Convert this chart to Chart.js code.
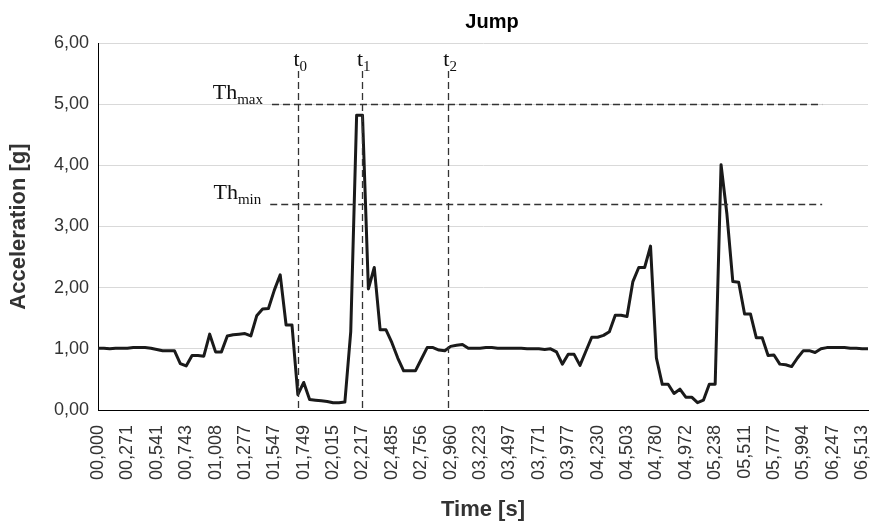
<!DOCTYPE html>
<html>
<head>
<meta charset="utf-8">
<script src="https://cdn.jsdelivr.net/npm/chart.js@4.4.1/dist/chart.umd.min.js"></script>
<style>
  html, body { margin: 0; padding: 0; background: #fff; }
  #wrap { width: 871px; height: 525px; }
</style>
</head>
<body>
<div id="wrap"><canvas id="jumpChart" width="871" height="525"></canvas></div>
<script>
// tick labels shown on the time axis (one every 5 samples)
const tickLabels = [
    '00,000', '00,271', '00,541', '00,743', '01,008', '01,277', '01,547', '01,749', '02,015',
    '02,217', '02,485', '02,756', '02,960', '03,223', '03,497', '03,771', '03,977', '04,230',
    '04,503', '04,780', '04,972', '05,238', '05,511', '05,777', '05,994', '06,247', '06,513'
];

// acceleration samples [g]
const acceleration = [
    1.01, 1.01, 1.00, 1.01, 1.01, 1.01, 1.02, 1.02, 1.02, 1.01,
    0.99, 0.97, 0.97, 0.97, 0.76, 0.72, 0.89, 0.89, 0.88, 1.24,
    0.95, 0.95, 1.21, 1.23, 1.24, 1.25, 1.21, 1.54, 1.65, 1.66,
    1.96, 2.21, 1.39, 1.39, 0.25, 0.45, 0.17, 0.16, 0.15, 0.14,
    0.12, 0.12, 0.13, 1.28, 4.82, 4.82, 1.98, 2.33, 1.31, 1.31,
    1.10, 0.85, 0.64, 0.64, 0.64, 0.83, 1.02, 1.02, 0.98, 0.97,
    1.04, 1.06, 1.07, 1.01, 1.01, 1.01, 1.02, 1.02, 1.01, 1.01,
    1.01, 1.01, 1.01, 1.00, 1.00, 1.00, 0.99, 1.00, 0.95, 0.75,
    0.91, 0.91, 0.73, 0.96, 1.19, 1.19, 1.22, 1.28, 1.55, 1.55,
    1.53, 2.10, 2.33, 2.33, 2.68, 0.85, 0.42, 0.42, 0.27, 0.34,
    0.21, 0.21, 0.12, 0.16, 0.42, 0.42, 4.01, 3.20, 2.10, 2.09,
    1.57, 1.57, 1.18, 1.18, 0.89, 0.90, 0.75, 0.74, 0.71, 0.85,
    0.97, 0.97, 0.94, 1.00, 1.02, 1.02, 1.02, 1.02, 1.01, 1.01,
    1.00, 1.00
];

// event markers t0..t2 (sample position) and thresholds Th_max / Th_min [g]
const markerPos = [34.1, 44.9, 59.6];
const markerSub = ['0', '1', '2'];
const thresholdValues = [5.00, 3.36];
const thresholdSub = ['max', 'min'];
const thresholdFrom = [29.6, 29.3];
const thresholdTo = 123.2;

const sansFont = '"Liberation Sans", Arial, sans-serif';
const serifFont = '"Liberation Serif", "Times New Roman", serif';

function drawSubscripted(ctx, main, sub, x, baseline, alignRight) {
    ctx.font = '22px ' + serifFont;
    const wMain = ctx.measureText(main).width;
    ctx.font = '15px ' + serifFont;
    const wSub = ctx.measureText(sub).width;
    const left = alignRight ? x - wMain - wSub : x;
    ctx.textAlign = 'left';
    ctx.textBaseline = 'alphabetic';
    ctx.font = '22px ' + serifFont;
    ctx.fillText(main, left, baseline);
    ctx.font = '15px ' + serifFont;
    ctx.fillText(sub, left + wMain, baseline + 5);
}

const jumpMarks = {
    id: 'jumpMarks',
    afterDatasetsDraw(chart) {
        const { ctx, chartArea, scales: { x, y } } = chart;
        ctx.save();
        ctx.strokeStyle = '#333';
        ctx.lineWidth = 1.3;
        ctx.setLineDash([7, 4]);

        // vertical event lines
        markerPos.forEach(pos => {
            const px = Math.round(x.getPixelForValue(pos)) + 0.5;
            ctx.beginPath();
            ctx.moveTo(px, 71);
            ctx.lineTo(px, chartArea.bottom);
            ctx.stroke();
        });

        // horizontal threshold lines
        thresholdValues.forEach((v, i) => {
            const py = Math.round(y.getPixelForValue(v)) + 0.5;
            ctx.beginPath();
            ctx.moveTo(x.getPixelForValue(thresholdFrom[i]), py);
            ctx.lineTo(x.getPixelForValue(thresholdTo), py);
            ctx.stroke();
        });
        ctx.setLineDash([]);

        ctx.fillStyle = '#111';
        markerPos.forEach((pos, i) => {
            const px = x.getPixelForValue(pos);
            drawSubscripted(ctx, 't', markerSub[i], px - 5, 66, false);
        });
        thresholdValues.forEach((v, i) => {
            const py = y.getPixelForValue(v);
            drawSubscripted(ctx, 'Th', thresholdSub[i], x.getPixelForValue(thresholdFrom[i]) - 9, py - 5, true);
        });

        // chart title, centred over the plot area
        ctx.font = 'bold 20px ' + sansFont;
        ctx.textAlign = 'center';
        ctx.textBaseline = 'middle';
        ctx.fillStyle = '#000';
        ctx.fillText('Jump', (chartArea.left + chartArea.right) / 2 + 9, 22);
        ctx.restore();
    }
};

const ctx = document.getElementById('jumpChart').getContext('2d');
new Chart(ctx, {
    type: 'line',
    data: {
        datasets: [{
            label: 'Jump',
            data: acceleration.map((v, i) => ({ x: i, y: v })),
            borderColor: '#1a1a1a',
            borderWidth: 3,
            pointRadius: 0,
            tension: 0,
            borderJoinStyle: 'round',
            fill: false
        }]
    },
    options: {
        responsive: false,
        animation: false,
        devicePixelRatio: 1,
        layout: {
            padding: { left: 0, right: 3, top: 43, bottom: 2 }
        },
        plugins: {
            legend: { display: false },
            title: { display: false },
            tooltip: { enabled: false }
        },
        scales: {
            x: {
                type: 'linear',
                min: 0,
                max: acceleration.length - 1,
                grid: { display: false, drawTicks: false },
                border: { color: '#000', width: 1 },
                afterBuildTicks: scale => {
                    scale.ticks = tickLabels.map((_, k) => ({ value: k * 5 }));
                },
                ticks: {
                    autoSkip: false,
                    minRotation: 90,
                    maxRotation: 90,
                    padding: 15,
                    color: '#333',
                    font: { family: sansFont, size: 18 },
                    callback: value => tickLabels[value / 5]
                },
                title: {
                    display: true,
                    text: 'Time [s]',
                    color: '#333',
                    font: { family: sansFont, size: 22, weight: 'bold' },
                    padding: { top: 4, bottom: 0 }
                },
                afterFit: scale => {
                    scale.height = 113;
                    scale.paddingLeft = 0;
                    scale.paddingRight = 0;
                }
            },
            y: {
                min: 0,
                max: 6,
                grid: { color: '#d9d9d9', drawTicks: false },
                border: { color: '#000', width: 1 },
                ticks: {
                    stepSize: 1,
                    padding: 9,
                    color: '#333',
                    font: { family: sansFont, size: 18 },
                    callback: value => value.toFixed(2).replace('.', ',')
                },
                title: {
                    display: true,
                    text: 'Acceleration [g]',
                    color: '#333',
                    font: { family: sansFont, size: 22, weight: 'bold' },
                    padding: { top: 6, bottom: 0 }
                },
                afterFit: scale => {
                    scale.width = 98;
                    scale.paddingTop = 0;
                    scale.paddingBottom = 0;
                }
            }
        }
    },
    plugins: [jumpMarks]
});
</script>
</body>
</html>
